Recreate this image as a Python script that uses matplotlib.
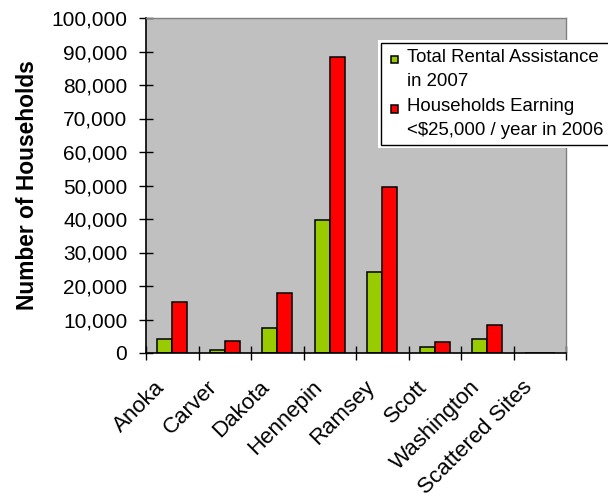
import matplotlib
matplotlib.use("Agg")
import matplotlib.pyplot as plt
import matplotlib.transforms as mtransforms
from matplotlib.patches import Rectangle
from matplotlib.container import BarContainer
from matplotlib.legend_handler import HandlerPatch, update_from_first_child
import numpy as np
from matplotlib.ticker import FuncFormatter, FixedLocator

plt.rcParams['font.family'] = ['Liberation Sans', 'DejaVu Sans']

counties = ["Anoka", "Carver", "Dakota", "Hennepin", "Ramsey", "Scott",
            "Washington", "Scattered Sites"]
rental_assistance_2007 = [4200, 1000, 7400, 39800, 24200, 1700, 4200, 0]
households_under_25k_2006 = [15200, 3700, 17800, 88500, 49500, 3200, 8500, 0]

fig = plt.figure(figsize=(6.08, 5.0), dpi=100)
ax = fig.add_axes([146 / 608, 1 - 353 / 500, 420 / 608, 335 / 500])
ax.set_facecolor('#C0C0C0')

x = np.arange(len(counties))
w = 0.285
ax.bar(x - w / 2, rental_assistance_2007, w, color='#99CC00',
       edgecolor='black', linewidth=1.1, label='Total Rental Assistance\nin 2007')
ax.bar(x + w / 2, households_under_25k_2006, w, color='#FF0000',
       edgecolor='black', linewidth=1.1,
       label='Households Earning\n<$25,000 / year in 2006')

ax.set_xlim(-0.5, len(counties) - 0.5)
ax.set_ylim(0, 100000)

# y axis
ax.yaxis.set_major_locator(FixedLocator(np.arange(0, 100001, 10000)))
ax.yaxis.set_major_formatter(FuncFormatter(lambda v, p: f"{int(v):,}"))
ax.tick_params(axis='y', direction='inout', length=10, width=1,
               labelsize=15, pad=8.5)

# x axis: ticks on category borders, labels on centres
ax.set_xticks(np.arange(-0.5, len(counties), 1.0))
ax.set_xticklabels([])
ax.tick_params(axis='x', which='major', direction='inout', length=10, width=1)
ax.set_xticks(x, minor=True)
ax.set_xticklabels(counties, minor=True, rotation=45, ha='right',
                   rotation_mode='anchor', fontsize=16)
ax.tick_params(axis='x', which='minor', length=0, pad=12)
shift = mtransforms.ScaledTranslation(-0.18, -0.07, fig.dpi_scale_trans)
for lab in ax.get_xticklabels(minor=True):
    lab.set_transform(lab.get_transform() + shift)

for s in ['top', 'right']:
    ax.spines[s].set_color('#808080')
    ax.spines[s].set_linewidth(1)
for s in ['left', 'bottom']:
    ax.spines[s].set_color('black')
    ax.spines[s].set_linewidth(1.2)

ax.set_ylabel("Number of Households", fontsize=16.4, fontweight='bold')
ax.yaxis.set_label_coords(-0.255, 0.5)


# small square marker next to the first line of each legend label
def square(legend, orig_handle, xdescent, ydescent, width, height, fontsize):
    s = 0.4 * fontsize
    top = height - ydescent
    return Rectangle((-xdescent + width - s, top - 0.58 * fontsize - s / 2), s, s)


fs = 13.4
leg = fig.legend(loc='upper left', bbox_to_anchor=(381 / 608, 1 - 43 / 500),
                 fontsize=fs, frameon=True, fancybox=False,
                 handlelength=0.62, handleheight=1.0, handletextpad=0.5,
                 borderpad=0.3, labelspacing=0.45, borderaxespad=0,
                 handler_map={BarContainer: HandlerPatch(
                     patch_func=square, update_func=update_from_first_child)})
leg.get_frame().set_edgecolor('black')
leg.get_frame().set_linewidth(1)
leg.get_frame().set_facecolor('white')
leg.get_frame().set_alpha(1)
for t in leg.get_texts():
    t.set_linespacing(1.55)
for col in leg._legend_handle_box.get_children():
    for item in col.get_children():
        item.align = 'top'

# white margin around the legend box
fig.canvas.draw()
bb = leg.get_window_extent()
fig.add_artist(Rectangle((bb.x0 - 3, bb.y0 - 3), bb.width + 6, bb.height + 6,
                         transform=None, facecolor='white', edgecolor='none',
                         zorder=4))

fig.savefig("out.png", dpi=100)
